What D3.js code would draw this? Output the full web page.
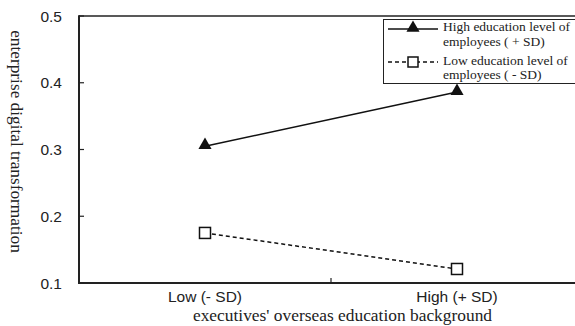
<!DOCTYPE html>
<html><head><meta charset="utf-8">
<script src="https://cdn.jsdelivr.net/npm/d3@7"></script>
<style>body{margin:0;background:#fff}</style>
</head><body>
<svg id="c" width="575" height="326"></svg>
<script>
const categories = ["Low (- SD)", "High (+ SD)"];
const highEdu = [0.305, 0.386];
const lowEdu = [0.175, 0.121];
const yTicks = [0.1, 0.2, 0.3, 0.4, 0.5];
const legendLabels = [["High education level of", "employees ( + SD)"], ["Low education level of", "employees ( - SD)"]];

(function () {
const svg = d3.select("#c");
const pl = 79, pr = 583, pt = 16, pb = 283;
const x = d3.scaleBand().domain(categories).range([pl, pr]);
const y = d3.scaleLinear().domain([0.1, 0.5]).range([pb, pt]);
const sans = "Liberation Sans, Arial, sans-serif";
const serif = "Liberation Serif, Times New Roman, serif";

// frame
svg.append("line").attr("x1", pl).attr("x2", 575).attr("y1", pt).attr("y2", pt).attr("stroke", "#222").attr("stroke-width", 1.6);
svg.append("line").attr("x1", pl).attr("x2", pl).attr("y1", pt - 0.8).attr("y2", pb + 1).attr("stroke", "#222").attr("stroke-width", 2);
svg.append("line").attr("x1", pl - 1).attr("x2", 575).attr("y1", pb).attr("y2", pb).attr("stroke", "#222").attr("stroke-width", 2);

// y ticks
const yAxis = svg.append("g");
yTicks.forEach(t => {
  yAxis.append("line").attr("x1", pl).attr("x2", pl + 5).attr("y1", y(t)).attr("y2", y(t)).attr("stroke", "#222").attr("stroke-width", 1.2);
  yAxis.append("text").attr("x", 62).attr("y", y(t) + 5.5).attr("text-anchor", "end")
    .attr("font-family", sans).attr("font-size", 15.5).attr("fill", "#222").text(t.toFixed(1));
});
// x middle tick
svg.append("line").attr("x1", x(categories[1])).attr("x2", x(categories[1])).attr("y1", pb).attr("y2", pb - 5).attr("stroke", "#222").attr("stroke-width", 1.2);
categories.forEach(c => {
  svg.append("text").attr("x", x(c) + x.bandwidth() / 2).attr("y", 302).attr("text-anchor", "middle")
    .attr("font-family", sans).attr("font-size", 15.5).attr("fill", "#222").text(c);
});

// titles
svg.append("text").attr("x", 342.5).attr("y", 321).attr("text-anchor", "middle")
  .attr("font-family", serif).attr("font-size", 17.4).attr("fill", "#222")
  .text("executives' overseas education background");
svg.append("text").attr("transform", "translate(11,141.5) rotate(90)").attr("text-anchor", "middle")
  .attr("font-family", serif).attr("font-size", 17.3).attr("fill", "#222")
  .text("enterprise digital transformation");

const cx = c => x(c) + x.bandwidth() / 2;
const line = d3.line().x((d, i) => cx(categories[i])).y(d => y(d));
svg.append("path").datum(highEdu).attr("d", line).attr("fill", "none").attr("stroke", "#111").attr("stroke-width", 1.5);
svg.append("path").datum(lowEdu).attr("d", line).attr("fill", "none").attr("stroke", "#111").attr("stroke-width", 1.5).attr("stroke-dasharray", "4,3");

const tri = d3.symbol().type(d3.symbolTriangle).size(75);
highEdu.forEach((v, i) => {
  svg.append("path").attr("d", tri).attr("transform", `translate(${cx(categories[i])},${y(v) - 1})`).attr("fill", "#111");
});
lowEdu.forEach((v, i) => {
  svg.append("rect").attr("x", cx(categories[i]) - 5.5).attr("y", y(v) - 5.5).attr("width", 11).attr("height", 11)
    .attr("fill", "#fff").attr("stroke", "#111").attr("stroke-width", 1.5);
});

// legend
const lg = svg.append("g");
lg.append("rect").attr("x", 383.5).attr("y", 19.5).attr("width", 200).attr("height", 64).attr("fill", "#fff").attr("stroke", "#222").attr("stroke-width", 1);
const lx1 = 388, lx2 = 438, lmx = 413;
lg.append("line").attr("x1", lx1).attr("x2", lx2).attr("y1", 29).attr("y2", 29).attr("stroke", "#111").attr("stroke-width", 1.5);
lg.append("path").attr("d", tri).attr("transform", `translate(${lmx},28)`).attr("fill", "#111");
lg.append("line").attr("x1", lx1).attr("x2", lx2).attr("y1", 62).attr("y2", 62).attr("stroke", "#111").attr("stroke-width", 1.5).attr("stroke-dasharray", "4,3");
lg.append("rect").attr("x", lmx - 5).attr("y", 57).attr("width", 10).attr("height", 10).attr("fill", "#fff").attr("stroke", "#111").attr("stroke-width", 1.5);
const lys = [[31, 46], [64.5, 78.5]];
legendLabels.forEach((ls, i) => {
  ls.forEach((t, j) => {
    lg.append("text").attr("x", 443).attr("y", lys[i][j]).attr("font-family", serif)
      .attr("font-size", 13.5).attr("fill", "#222").text(t);
  });
});
})();
</script>
</body></html>
